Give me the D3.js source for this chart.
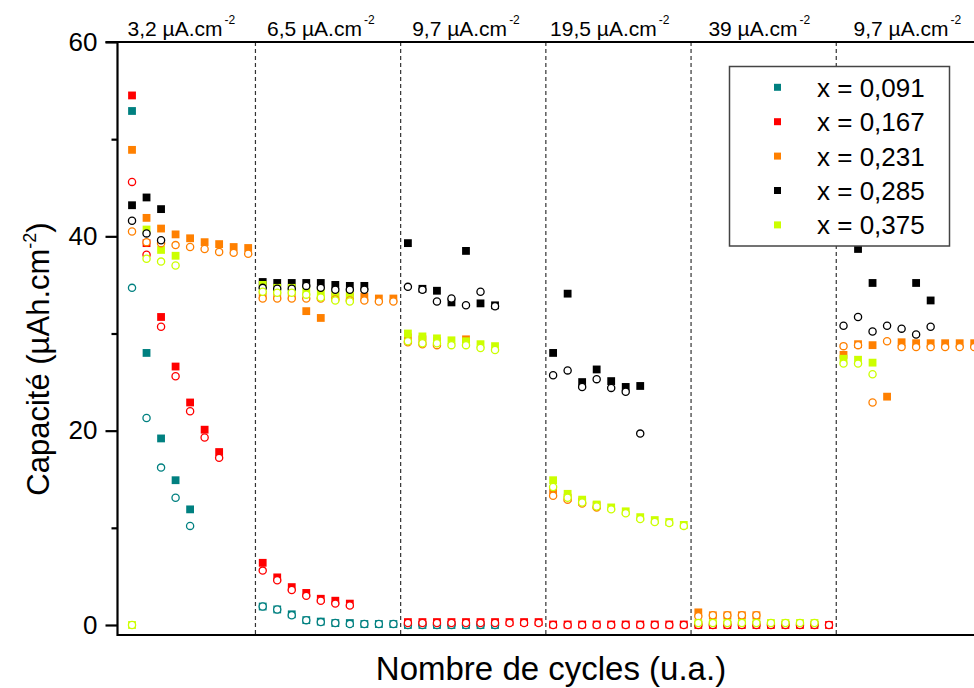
<!DOCTYPE html>
<html><head><meta charset="utf-8">
<script src="https://cdn.jsdelivr.net/npm/d3@7/dist/d3.min.js"></script>
<style>body{margin:0;background:#fff}svg{display:block;font-family:"Liberation Sans",Arial,sans-serif}</style>
</head><body><svg id="c" width="974" height="688"></svg>
<script>
// ---- data ----
const seriesNames = ["x = 0,091", "x = 0,167", "x = 0,231", "x = 0,285", "x = 0,375"];
const seriesColors = ["#008080", "#ff0000", "#ff8000", "#000000", "#ccff00"];
const sectionLabels = ["3,2 µA.cm", "6,5 µA.cm", "9,7 µA.cm", "19,5 µA.cm", "39 µA.cm", "9,7 µA.cm"];
const sectionLabelAt = [4.4, 14, 24, 33.9, 44.2, 54.4];
const sectionBreaks = [9.5, 19.5, 29.5, 39.5, 49.5];
const yMajorTicks = [0, 20, 40, 60];
const yMinorTicks = [10, 30, 50];

const tealCharge = [[1,52.9],[2,28.0],[3,19.2],[4,14.9],[5,11.9],[10,1.9],[11,1.6],[12,1.1],[13,0.5],[14,0.35],[15,0.2],[16,0.2],[17,0.1],[18,0.1],[19,0.1],[20,0],[21,0],[22,0],[23,0],[24,0],[25,0],[26,0]];
const tealDischarge = [[1,34.7],[2,21.3],[3,16.2],[4,13.1],[5,10.2],[10,1.9],[11,1.6],[12,1.0],[13,0.5],[14,0.3],[15,0.2],[16,0.1],[17,0.1],[18,0.1],[19,0.1],[20,0],[21,0],[22,0],[23,0],[24,0],[25,0],[26,0]];

const redCharge = [[1,54.5],[2,39.3],[3,31.7],[4,26.6],[5,22.9],[6,20.1],[7,17.8],[10,6.4],[11,4.9],[12,3.9],[13,3.3],[14,2.7],[15,2.5],[16,2.2],[20,0.3],[21,0.3],[22,0.3],[23,0.3],[24,0.3],[25,0.3],[26,0.3],[27,0.3],[28,0.3],[29,0.3],[30,0.05],[31,0.05],[32,0.05],[33,0.05],[34,0.05],[35,0.05],[36,0.05],[37,0.05],[38,0.05],[39,0.05],[40,0],[41,0],[42,0],[43,0],[44,0],[45,0],[46,0],[47,0],[48,0],[49,0]];
const redDischarge = [[1,45.6],[2,38.1],[3,30.7],[4,25.6],[5,22.0],[6,19.3],[7,17.2],[10,5.6],[11,4.6],[12,3.6],[13,3.0],[14,2.5],[15,2.2],[16,2.0],[20,0.2],[21,0.2],[22,0.2],[23,0.2],[24,0.2],[25,0.2],[26,0.2],[27,0.2],[28,0.2],[29,0.2],[30,0],[31,0],[32,0],[33,0],[34,0],[35,0],[36,0],[37,0],[38,0],[39,0],[40,0],[41,0],[42,0],[43,0],[44,0],[45,0],[46,0],[47,0],[48,0],[49,0]];

const orangeCharge = [[1,48.9],[2,41.9],[3,40.8],[4,40.2],[5,39.8],[6,39.4],[7,39.2],[8,38.9],[9,38.8],[10,34.0],[11,33.9],[12,33.9],[13,32.3],[14,31.6],[15,33.8],[16,33.8],[17,33.8],[18,33.6],[19,33.6],[20,29.6],[21,29.4],[22,29.2],[24,29.4],[30,13.8],[31,13.1],[32,12.7],[33,12.3],[40,1.3],[41,1.0],[42,1.0],[43,1.0],[44,1.0],[50,27.8],[51,28.9],[52,28.8],[53,23.5],[54,29.1],[55,29.0],[56,29.0],[57,29.0],[58,29.0],[59,29.0]];
const orangeDischarge = [[1,40.5],[2,39.4],[3,39.3],[4,39.1],[5,38.9],[6,38.7],[7,38.4],[8,38.3],[9,38.2],[10,33.6],[11,33.6],[12,33.6],[13,33.6],[14,33.6],[15,33.5],[16,33.4],[17,33.4],[18,33.3],[19,33.3],[20,29.1],[21,28.9],[22,28.8],[30,13.3],[31,12.9],[32,12.5],[33,12.1],[40,0.9],[41,1.0],[42,1.0],[43,1.0],[44,1.0],[50,28.7],[51,28.8],[52,22.9],[53,29.2],[54,28.6],[55,28.6],[56,28.6],[57,28.6],[58,28.6],[59,28.6]];

const blackCharge = [[1,43.2],[2,44.0],[3,42.8],[10,35.3],[11,35.2],[12,35.2],[13,35.2],[14,35.2],[15,35.0],[16,34.9],[17,34.9],[20,39.3],[21,34.6],[22,34.4],[23,33.2],[24,38.5],[25,33.1],[26,32.9],[30,28.0],[31,34.1],[32,25.0],[33,26.3],[34,25.1],[35,24.5],[36,24.6],[51,38.7],[52,35.2],[55,35.2],[56,33.4]];
const blackDischarge = [[1,41.6],[2,40.3],[3,39.6],[10,34.7],[11,34.6],[12,34.6],[13,34.9],[14,34.7],[15,34.5],[16,34.5],[17,34.5],[20,34.8],[21,34.5],[22,33.3],[23,33.6],[24,32.9],[25,34.3],[26,32.8],[30,25.7],[31,26.2],[32,24.5],[33,25.3],[34,24.4],[35,24.0],[36,19.7],[50,30.8],[51,31.7],[52,30.2],[53,30.8],[54,30.5],[55,29.9],[56,30.7]];

const ygCharge = [[1,0.0],[2,40.7],[3,38.6],[4,38.0],[10,35.0],[11,34.7],[12,34.7],[13,34.4],[14,34.2],[15,34.0],[16,34.0],[20,30.0],[21,29.7],[22,29.5],[23,29.3],[24,29.2],[25,28.9],[26,28.7],[30,14.9],[31,13.5],[32,12.9],[33,12.4],[34,12.1],[35,11.7],[36,11.1],[37,10.8],[38,10.6],[39,10.3],[40,0.2],[41,0.2],[42,0.2],[43,0.2],[44,0.2],[45,0.2],[46,0.2],[47,0.2],[48,0.2],[50,27.4],[51,27.3],[52,27.0]];
const ygDischarge = [[1,0.0],[2,37.7],[3,37.4],[4,37.0],[10,34.3],[11,34.2],[12,34.2],[13,34.0],[14,33.7],[15,33.4],[16,33.3],[20,29.2],[21,29.0],[22,29.0],[23,28.8],[24,28.8],[25,28.5],[26,28.3],[30,14.2],[31,13.1],[32,12.6],[33,12.2],[34,11.9],[35,11.5],[36,10.9],[37,10.6],[38,10.5],[39,10.2],[40,0.2],[41,0.2],[42,0.2],[43,0.2],[44,0.2],[45,0.2],[46,0.2],[47,0.2],[48,0.2],[50,26.9],[51,26.9],[52,25.8]];

const chargeSets = [tealCharge, redCharge, orangeCharge, blackCharge, ygCharge];
const dischargeSets = [tealDischarge, redDischarge, orangeDischarge, blackDischarge, ygDischarge];

// ---- layout ----
const svg = d3.select("#c");
const L = 117.5, R = 974.2, T = 42, B = 635;
const x = d3.scaleLinear().domain([0, 59]).range([L, R]);
const y = d3.scaleLinear().domain([-1.03, 60]).range([B, T]);

// section dividers
svg.append("g").selectAll("line").data(sectionBreaks).join("line")
  .attr("x1", d => x(d)).attr("x2", d => x(d)).attr("y1", T).attr("y2", B)
  .attr("stroke", "#333").attr("stroke-width", 1.2).attr("stroke-dasharray", "4,3");

// points: squares first, then circles
const sq = 7.8;
chargeSets.forEach((set, i) => {
  svg.append("g").selectAll("rect").data(set).join("rect")
    .attr("x", d => x(d[0]) - sq/2).attr("y", d => y(d[1]) - sq/2)
    .attr("width", sq).attr("height", sq).attr("fill", seriesColors[i]);
});
dischargeSets.forEach((set, i) => {
  svg.append("g").selectAll("circle").data(set).join("circle")
    .attr("cx", d => x(d[0])).attr("cy", d => y(d[1])).attr("r", 3.6)
    .attr("fill", "#fff").attr("stroke", seriesColors[i]).attr("stroke-width", 1.3);
});

// frame/axes
svg.append("line").attr("x1", L).attr("x2", L).attr("y1", T - 1).attr("y2", B + 1).attr("stroke", "#000").attr("stroke-width", 2.2);
svg.append("line").attr("x1", L - 12).attr("x2", 974).attr("y1", T).attr("y2", T).attr("stroke", "#000").attr("stroke-width", 2.2);
svg.append("line").attr("x1", L).attr("x2", 974).attr("y1", B).attr("y2", B).attr("stroke", "#000").attr("stroke-width", 2.2);

const yAxis = d3.axisLeft(y).tickValues(yMajorTicks).tickSize(12).tickPadding(8).tickFormat(d3.format("d"));
const gy = svg.append("g").attr("transform", `translate(${L},0)`).call(yAxis);
gy.select(".domain").remove();
gy.selectAll(".tick line").attr("stroke-width", 2.2);
gy.selectAll(".tick text").attr("font-size", 26).attr("font-family", "Liberation Sans, Arial, sans-serif").attr("fill", "#000");
const gyMinor = svg.append("g").attr("transform", `translate(${L},0)`)
  .call(d3.axisLeft(y).tickValues(yMinorTicks).tickSize(6).tickFormat(""));
gyMinor.select(".domain").remove();
gyMinor.selectAll(".tick line").attr("stroke-width", 2.2);

// section labels
sectionLabels.forEach((lab, i) => {
  const t = svg.append("text").attr("x", x(sectionLabelAt[i])).attr("y", 36)
    .attr("text-anchor", "middle").attr("font-size", 21).attr("fill", "#000");
  t.append("tspan").text(lab);
  t.append("tspan").attr("dx", 2).attr("dy", -12).attr("font-size", 12).text("-2");
});

// axis titles
svg.append("text").attr("x", 551).attr("y", 680).attr("text-anchor", "middle")
  .attr("font-size", 33).attr("fill", "#000").text("Nombre de cycles (u.a.)");
const yt = svg.append("text").attr("transform", "translate(49,359) rotate(-90)")
  .attr("text-anchor", "middle").attr("font-size", 31).attr("fill", "#000");
yt.append("tspan").text("Capacité (µAh.cm");
yt.append("tspan").attr("dy", -13).attr("font-size", 18).text("-2");
yt.append("tspan").attr("dy", 13).text(")");

// legend
const lg = svg.append("g");
lg.append("rect").attr("x", 729.5).attr("y", 66.5).attr("width", 220).attr("height", 179.5)
  .attr("fill", "#fff").attr("stroke", "#444").attr("stroke-width", 1.5);
seriesNames.forEach((n, i) => {
  const cy = 87.3 + i * 34.4;
  lg.append("rect").attr("x", 774).attr("y", cy - 3.5).attr("width", 7).attr("height", 7).attr("fill", seriesColors[i]);
  lg.append("text").attr("x", 817).attr("y", cy + 9.5).attr("font-size", 26).attr("fill", "#000").text(n);
});
</script></body></html>
